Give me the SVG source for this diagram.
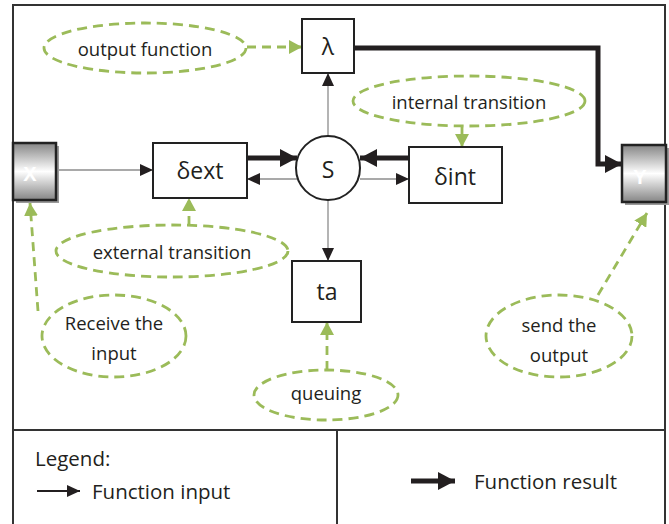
<svg xmlns="http://www.w3.org/2000/svg" width="669" height="524" viewBox="0 0 669 524">
<style>
.frame{fill:none;stroke:#333;stroke-width:2}
.box{fill:#fff;stroke:#222;stroke-width:2}
.lbl{font-family:"Open Sans","Noto Sans",sans-serif;fill:#231f20;text-anchor:middle;dominant-baseline:central}
.note{fill:none;stroke:#9bbb59;stroke-width:2.8;stroke-dasharray:10 6}
.gl{fill:none;stroke:#9bbb59;stroke-width:2.8;stroke-dasharray:9 6}
.thin{fill:none;stroke:#8c8c8c;stroke-width:1.3}
.thick{fill:none;stroke:#231f20;stroke-width:5}
.io{stroke:#222;stroke-width:2.5;fill:url(#grad)}
.shadow{fill:#9a9a9a}
.iol{font-family:"Liberation Sans",Arial,sans-serif;font-weight:bold;fill:#fff;text-anchor:middle;dominant-baseline:central;font-size:20px}
.n{font-size:18.5px}
.big{font-size:23px}
.lg{font-size:20.5px;text-anchor:start}
</style>
<defs>
<linearGradient id="grad" x1="0" y1="0" x2="0" y2="1">
<stop offset="0" stop-color="#858585"/>
<stop offset="0.5" stop-color="#ffffff"/>
<stop offset="1" stop-color="#858585"/>
</linearGradient>
<marker id="ah" markerUnits="userSpaceOnUse" markerWidth="14" markerHeight="12" refX="13" refY="6" orient="auto">
<path d="M0,0 L13,6 L0,12 Z" fill="#231f20"/>
</marker>
<marker id="ahk" markerUnits="userSpaceOnUse" markerWidth="18" markerHeight="18" refX="17" refY="9" orient="auto">
<path d="M0,0 L17,9 L0,18 Z" fill="#231f20"/>
</marker>
<marker id="ahg" markerUnits="userSpaceOnUse" markerWidth="14" markerHeight="14" refX="13" refY="7" orient="auto">
<path d="M0,0 L13,7 L0,14 Z" fill="#9bbb59"/>
</marker>
</defs>
<rect width="669" height="524" fill="#fff"/>
<g id="frame">
<path class="frame" d="M13,530 L13,5 L665,5 L665,530"/>
<line class="frame" x1="13" y1="430" x2="665" y2="430"/>
<line class="frame" x1="337" y1="430" x2="337" y2="530"/>
</g>
<g id="connectors">
<line class="thin" x1="56" y1="170" x2="153" y2="170" marker-end="url(#ah)"/>
<line class="thick" x1="247" y1="158" x2="297" y2="158" marker-end="url(#ahk)"/>
<line class="thin" x1="297" y1="179" x2="247" y2="179" marker-end="url(#ah)"/>
<line class="thick" x1="409" y1="158" x2="360" y2="158" marker-end="url(#ahk)"/>
<line class="thin" x1="360" y1="179" x2="409" y2="179" marker-end="url(#ah)"/>
<line class="thin" x1="328" y1="136" x2="328" y2="73" marker-end="url(#ah)"/>
<line class="thin" x1="328" y1="200" x2="328" y2="261" marker-end="url(#ah)"/>
<path class="thick" d="M354,48 L598,48 L598,164 L622,164" marker-end="url(#ahk)"/>
<line class="gl" x1="247" y1="47" x2="302" y2="47" marker-end="url(#ahg)"/>
<line class="gl" x1="462" y1="127" x2="462" y2="147" marker-end="url(#ahg)"/>
<line class="gl" x1="189" y1="225" x2="189" y2="198" marker-end="url(#ahg)"/>
<line class="gl" x1="327" y1="370" x2="327" y2="322" marker-end="url(#ahg)"/>
<line class="gl" x1="38" y1="311" x2="30" y2="203" marker-end="url(#ahg)"/>
<line class="gl" x1="598" y1="295" x2="647" y2="213" marker-end="url(#ahg)"/>
</g>
<g id="X">
<rect class="shadow" x="16" y="146" width="43" height="57"/>
<rect class="io" x="13" y="143" width="43" height="57"/>
<text class="iol" x="30" y="174">X</text>
</g>
<g id="Y">
<rect class="shadow" x="625" y="148" width="44" height="57"/>
<rect class="io" x="622" y="145" width="44" height="57"/>
<text class="iol" x="640" y="177">Y</text>
</g>
<g id="dext">
<rect class="box" x="153" y="143" width="94" height="55"/>
<text class="lbl big" x="200" y="170">δext</text>
</g>
<g id="S">
<circle class="box" cx="328" cy="168" r="32"/>
<text class="lbl big" x="328" y="169">S</text>
</g>
<g id="dint">
<rect class="box" x="409" y="147" width="93" height="56"/>
<text class="lbl big" x="455" y="176">δint</text>
</g>
<g id="lambda">
<rect class="box" x="302" y="19" width="52" height="54"/>
<text class="lbl big" x="328" y="46">λ</text>
</g>
<g id="ta">
<rect class="box" x="292" y="261" width="69" height="61"/>
<text class="lbl big" x="327" y="291">ta</text>
</g>
<g id="output-function">
<ellipse class="note" cx="145" cy="48" rx="101" ry="25"/>
<text class="lbl n" x="145" y="48">output function</text>
</g>
<g id="internal-transition">
<ellipse class="note" cx="469" cy="101" rx="116" ry="25"/>
<text class="lbl n" x="469" y="101">internal transition</text>
</g>
<g id="external-transition">
<ellipse class="note" cx="172" cy="251" rx="116" ry="26"/>
<text class="lbl n" x="172" y="251">external transition</text>
</g>
<g id="queuing">
<ellipse class="note" cx="326" cy="395" rx="72" ry="25"/>
<text class="lbl n" x="326" y="392">queuing</text>
</g>
<g id="receive">
<ellipse class="note" cx="114" cy="336" rx="72" ry="41"/>
<text class="lbl n" x="114" y="322">Receive the</text>
<text class="lbl n" x="114" y="352">input</text>
</g>
<g id="send">
<ellipse class="note" cx="559" cy="336" rx="73" ry="41"/>
<text class="lbl n" x="559" y="324">send the</text>
<text class="lbl n" x="559" y="354">output</text>
</g>
<g id="legend">
<text class="lbl lg" x="35" y="458">Legend:</text>
<line x1="37" y1="491" x2="80" y2="491" stroke="#231f20" stroke-width="2" marker-end="url(#ah)"/>
<text class="lbl lg" x="92" y="491">Function input</text>
<line x1="411" y1="481" x2="455" y2="481" stroke="#231f20" stroke-width="5" marker-end="url(#ahk)"/>
<text class="lbl lg" x="474" y="481">Function result</text>
</g>
</svg>
